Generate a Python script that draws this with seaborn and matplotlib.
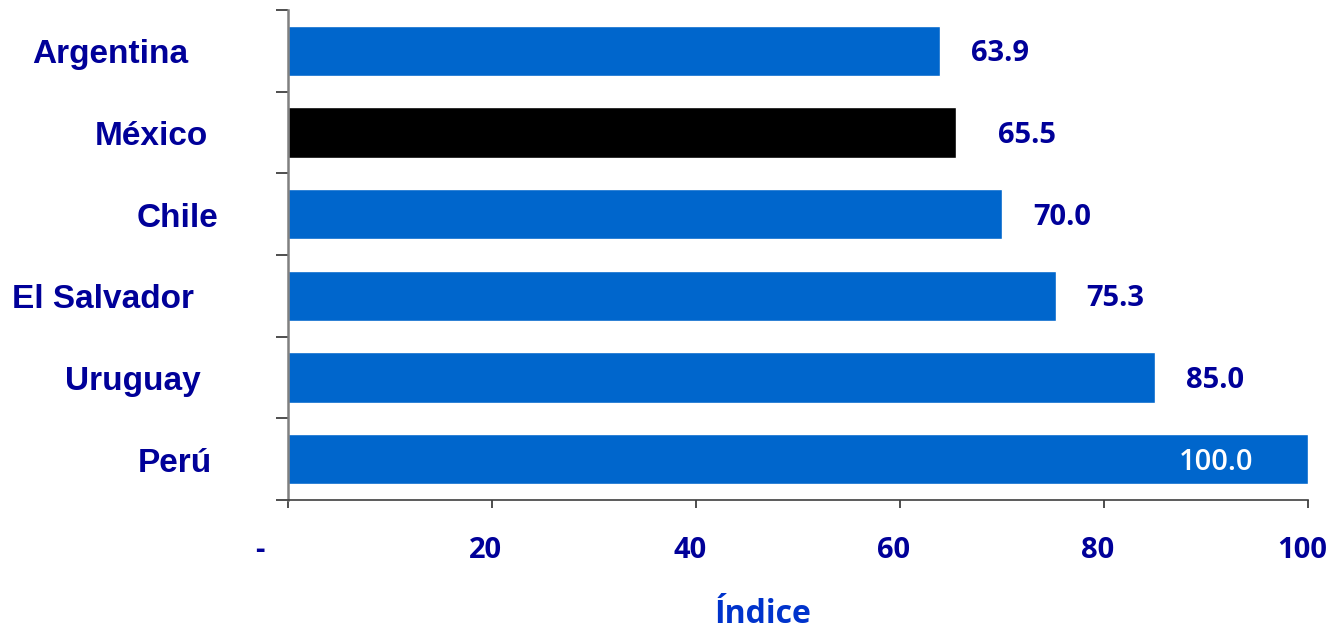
import matplotlib
matplotlib.use("Agg")
import matplotlib.pyplot as plt
import matplotlib.transforms as mtransforms
import seaborn as sns
import pandas as pd

# Índice por país
paises = ["Argentina", "México", "Chile", "El Salvador", "Uruguay", "Perú"]
indice = [63.9, 65.5, 70.0, 75.3, 85.0, 100.0]
etiquetas_x = ["-", "20", "40", "60", "80", "100"]
valores_x = [0, 20, 40, 60, 80, 100]

AZUL = "#0066CC"
NEGRO = "#000000"
NAVY = "#000099"
colores = [NEGRO if p == "México" else AZUL for p in paises]

sns.set_theme(style="white")
plt.rcParams["font.family"] = ["Open Sans", "DejaVu Sans"]

W, H = 1331, 632
fig = plt.figure(figsize=(W / 100, H / 100), dpi=100)
ax = fig.add_axes([288 / W, 1 - 500 / H, (1308 - 288) / W, (500 - 10) / H])

df = pd.DataFrame({"pais": paises, "indice": indice})
sns.barplot(data=df, y="pais", x="indice", hue="pais", palette=colores,
            order=paises, width=0.62, saturation=1, legend=False, ax=ax)

ax.set_xlim(0, 100)
ax.set_ylim(len(paises) - 0.5, -0.5)

# spines
for s in ["top", "right"]:
    ax.spines[s].set_visible(False)
ax.spines["left"].set_color("#808080")
ax.spines["left"].set_linewidth(1.8)
ax.spines["bottom"].set_color("#404040")
ax.spines["bottom"].set_linewidth(1.2)

# y ticks at category boundaries
ax.set_yticks([i - 0.5 for i in range(len(paises) + 1)])
ax.set_yticklabels([])
ax.tick_params(axis="y", direction="out", length=9, width=1.2, color="#303030", left=True)
ax.set_ylabel("")

# x ticks
ax.set_xticks(valores_x)
ax.set_xticklabels(etiquetas_x)
ax.tick_params(axis="x", direction="out", length=6, width=1.2, color="#303030",
               bottom=True, pad=20)
for lab in ax.get_xticklabels():
    lab.set_fontsize(21)
    lab.set_fontweight("bold")
    lab.set_color(NAVY)
    shift = -28 if lab.get_text() == "-" else -6
    lab.set_transform(lab.get_transform() +
                      mtransforms.ScaledTranslation(shift / 100, 0, fig.dpi_scale_trans))

ax.set_xlabel("Índice", fontsize=23, fontweight="bold", color="#0033CC")
ax.xaxis.set_label_coords((763 - 288) / (1308 - 288), -0.2)

# category labels
centros_px = [110, 151, 177, 103, 133, 175]
tr = mtransforms.blended_transform_factory(fig.transFigure, ax.transData)
bajar = mtransforms.ScaledTranslation(0, -4 / 100, fig.dpi_scale_trans)
for i, (p, cx) in enumerate(zip(paises, centros_px)):
    ax.text(cx / W, i, p, transform=tr + bajar, ha="center", va="center",
            fontsize=24, fontweight="bold", color=NAVY,
            family=["Liberation Sans", "DejaVu Sans"])

# value labels
desplaz_px = [31, 42, 31, 30, 31, 0]
for i, (v, d) in enumerate(zip(indice, desplaz_px)):
    if v >= 100:
        ax.annotate(f"{v:.1f}", xy=(v, i), xytext=(-55 * 0.72, -3 * 0.72),
                    textcoords="offset points", ha="right", va="center",
                    fontsize=21, fontweight="semibold", color="white")
    else:
        ax.annotate(f"{v:.1f}", xy=(v, i), xytext=(d * 0.72, -3 * 0.72),
                    textcoords="offset points", ha="left", va="center",
                    fontsize=21, fontweight="bold", color=NAVY)

fig.savefig("out.png", dpi=100, facecolor="white")
